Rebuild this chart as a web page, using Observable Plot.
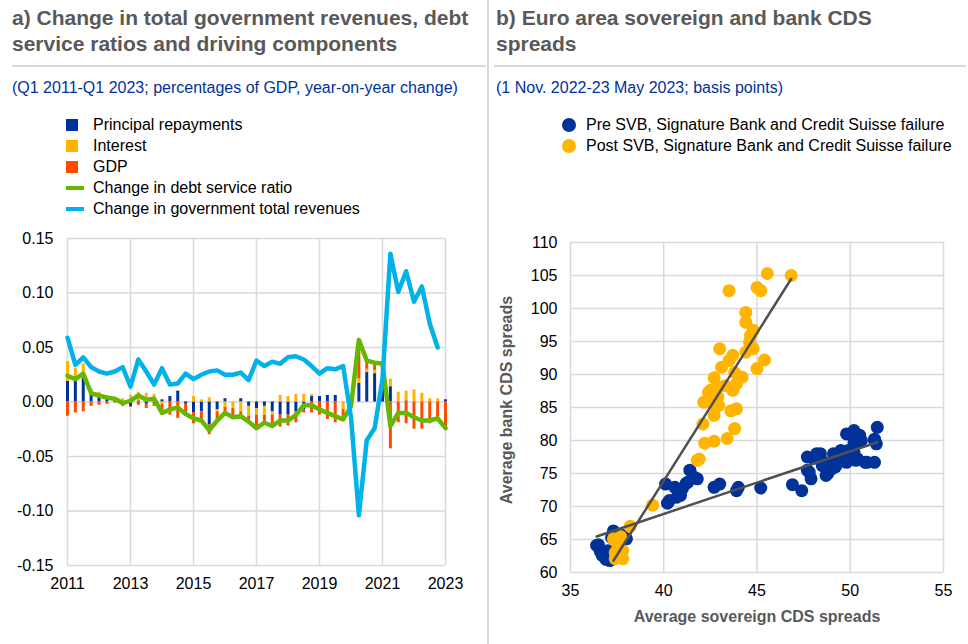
<!DOCTYPE html>
<html><head><meta charset="utf-8">
<script src="https://cdn.jsdelivr.net/npm/d3@7"></script>
<script src="https://cdn.jsdelivr.net/npm/@observablehq/plot@0.6"></script>
<style>
body{margin:0;width:968px;height:644px;position:relative;background:#fff;font-family:"Liberation Sans",Arial,sans-serif;overflow:hidden}
.title{position:absolute;top:5px;font-weight:bold;font-size:21px;line-height:26px;color:#595959;white-space:nowrap}
.sub{position:absolute;top:79px;font-size:16px;line-height:18px;color:#003299;white-space:nowrap}
.hr{position:absolute;top:65px;height:2px;background:#d9d9d9}
.vr{position:absolute;left:487px;top:0;width:2px;height:644px;background:#d9d9d9}
.leg{position:absolute;font-size:16px;line-height:18px;color:#000;white-space:nowrap}
.sw{position:absolute}
.axt{position:absolute;font-size:16px;font-weight:bold;color:#595959;white-space:nowrap}
.chart{position:absolute}
</style>
</head><body>
<div class="title" style="left:12px">a) Change in total government revenues, debt<br>service ratios and driving components</div>
<div class="title" style="left:496px">b) Euro area sovereign and bank CDS<br>spreads</div>
<div class="hr" style="left:12px;width:474px"></div>
<div class="hr" style="left:494px;width:472px"></div>
<div class="vr"></div>
<div class="sub" style="left:12px">(Q1 2011-Q1 2023; percentages of GDP, year-on-year change)</div>
<div class="sub" style="left:496px">(1 Nov. 2022-23 May 2023; basis points)</div>
<div id="legA"></div>
<div id="legB"></div>
<div id="chartA" class="chart" style="left:0;top:220px"></div>
<div id="chartB" class="chart" style="left:490px;top:225px"></div>
<div class="axt" style="left:507px;top:400px;transform:translate(-50%,-50%) rotate(-90deg)">Average bank CDS spreads</div>
<div class="axt" style="left:757px;top:617px;transform:translate(-50%,-50%)">Average sovereign CDS spreads</div>
<script>
// ---------- Panel a data ----------
const startYear = 2011; // Q1 2011, quarterly
const barSeries = ["Principal repayments", "Interest", "GDP"];
const barColors = ["#003299", "#ffb400", "#ff4b00"];
const lineSeries = ["Change in debt service ratio", "Change in government total revenues"];
const lineColors = ["#65b800", "#00b1ea"];

const principal = [0.019,0.019,0.022,0.009,0.007,0.004,0.003,-0.002,-0.004,0.001,-0.002,-0.001,0.002,0.005,0.010,-0.002,-0.010,-0.009,-0.021,-0.007,0.003,0,0.003,-0.004,-0.006,-0.004,-0.009,-0.012,-0.012,-0.009,-0.007,0.005,0.005,0.006,0.006,0,-0.002,0.017,0.027,0.026,0.027,0.014,0,0.001,0,0,0,0,0.002];
const interest = [0.018,0.012,0.013,0.003,0.002,0.002,0.001,0.003,0.006,0.008,0.008,0.007,-0.002,0,0,0,0.005,0.002,0.004,-0.002,-0.005,-0.006,-0.009,-0.009,-0.006,-0.008,-0.003,0.006,0.005,0.007,0.007,0.002,0,0,0,-0.007,0,0.004,0.003,0.003,0.003,0.007,0.009,0.009,0.011,0.008,0.003,0.003,0];
const gdp = [-0.013,-0.010,-0.009,-0.004,-0.003,-0.002,-0.001,-0.002,-0.001,-0.003,-0.004,-0.003,-0.010,-0.012,-0.015,-0.009,-0.010,-0.010,-0.009,-0.008,-0.008,-0.008,-0.007,-0.005,-0.012,-0.007,-0.010,-0.011,-0.010,-0.010,-0.003,-0.010,-0.012,-0.016,-0.019,-0.009,-0.002,0.036,0.008,0.007,0.005,-0.043,-0.019,-0.020,-0.025,-0.025,-0.020,-0.018,-0.026];
const debtService = [0.024,0.021,0.026,0.008,0.006,0.004,0.003,-0.001,0.001,0.006,0.002,0.003,-0.010,-0.007,-0.005,-0.011,-0.015,-0.017,-0.026,-0.017,-0.010,-0.014,-0.013,-0.018,-0.024,-0.019,-0.022,-0.017,-0.017,-0.012,-0.003,-0.003,-0.007,-0.010,-0.013,-0.016,-0.004,0.057,0.038,0.036,0.035,-0.022,-0.010,-0.010,-0.014,-0.017,-0.017,-0.015,-0.024];
const revenues = [0.059,0.034,0.041,0.032,0.028,0.026,0.028,0.032,0.014,0.039,0.028,0.016,0.031,0.016,0.017,0.026,0.021,0.025,0.028,0.029,0.025,0.025,0.027,0.020,0.038,0.033,0.037,0.035,0.041,0.042,0.039,0.033,0.026,0.031,0.030,0.033,-0.014,-0.104,-0.035,-0.024,0.021,0.136,0.101,0.120,0.092,0.106,0.072,0.050];
const xTicksA = [2011,2013,2015,2017,2019,2021,2023];
const yTicksA = [-0.15,-0.10,-0.05,0,0.05,0.10,0.15];

// ---------- Panel b data ----------
const pointSeries = ["Pre SVB, Signature Bank and Credit Suisse failure", "Post SVB, Signature Bank and Credit Suisse failure"];
const pointColors = ["#003299", "#ffb400"];
const preX = [36.4,36.5,36.6,36.7,36.9,37.1,37.3,37.2,37.0,37.6,38.0,37.8,
  40.1,40.2,40.3,40.6,40.7,40.9,41.0,41.2,41.3,41.4,41.8,41.6,
  42.7,43.0,43.9,44.0,45.2,46.9,47.4,
  47.7,47.7,47.8,47.9,48.0,48.3,48.4,48.6,48.7,48.7,48.8,48.8,49.0,49.1,49.3,49.5,49.7,49.7,49.8,50.0,50.2,50.3,50.4,50.2,50.5,50.3,50.2,50.4,50.8,50.9,51.3,51.4,51.45,51.3,49.2,48.5,49.9,50.6,49.8,48.2,49.5,49.1,51.3];
const preY = [64.1,64.2,63.2,62.6,62.0,61.8,66.3,65.3,63.3,64.3,65.1,65.6,
  73.4,70.5,70.9,72.9,71.4,71.7,72.7,73.5,73.7,75.5,74.2,74.5,
  72.9,73.4,72.4,72.9,72.8,73.3,72.4,
  77.5,75.5,75.2,74.2,77.3,77.7,78.0,76.7,76.5,74.7,75.5,75.0,75.7,77.0,76.5,78.0,77.7,77.0,76.7,78.2,78.2,77.0,77.2,81.5,80.8,80.3,79.7,79.7,76.7,76.7,76.7,79.5,82.0,80.2,76.0,76.2,78.5,80.0,81.0,78.0,78.5,78.0,80.0];
const postX = [37.3,37.5,37.8,37.4,37.8,37.7,37.6,38.2,37.4,37.6,
  39.4,41.8,41.9,42.2,42.7,43.4,43.8,42.1,42.7,43.6,43.9,42.95,42.15,42.6,42.9,42.5,43.7,43.3,43.9,42.7,44.2,43.8,43.1,45.0,45.4,43.5,43.7,44.4,43.0,44.8,44.6,44.65,44.8,44.4,44.4,43.5,45.0,45.2,45.55,46.83,42.9,42.4];
const postY = [65.1,64.3,63.3,62.1,62.1,65.4,63.8,67.0,63.0,62.5,
  70.2,77.0,77.2,79.6,79.9,80.3,81.8,82.5,83.8,84.5,84.8,85.3,85.8,85.6,86.6,87.6,87.6,88.3,88.6,89.5,89.6,90.3,91.1,90.9,92.2,92.1,92.9,93.4,93.9,93.9,94.9,95.9,96.7,97.9,99.4,102.7,103.2,102.7,105.3,105.0,88.1,87.3];
const xTicksB = [35,40,45,50,55];
const yTicksB = [60,65,70,75,80,85,90,95,100,105,110];

// ---------- build tables ----------
const quarters = revenues.concat([null]).map((_, i) => startYear + i / 4);
const bars = [];
quarters.forEach((t, i) => {
  bars.push({t, s: barSeries[0], v: principal[i]});
  bars.push({t, s: barSeries[1], v: interest[i]});
  bars.push({t, s: barSeries[2], v: gdp[i]});
});
const dsr = debtService.map((v, i) => ({t: quarters[i], v}));
const rev = revenues.map((v, i) => ({t: quarters[i], v}));
const pre = preX.map((x, i) => ({x, y: preY[i]}));
const post = postX.map((x, i) => ({x, y: postY[i]}));

const grid = "#d9d9d9";
const font = {fontFamily: "Liberation Sans, Arial, sans-serif", fontSize: "16px", color: "#000", background: "transparent", overflow: "visible"};

const chartA = Plot.plot({
  width: 488, height: 424,
  marginLeft: 67, marginRight: 43, marginTop: 18, marginBottom: 79,
  style: font,
  x: {domain: [2011, 2023], label: null},
  y: {domain: [-0.15, 0.15], label: null},
  color: {domain: barSeries, range: barColors},
  marks: [
    Plot.ruleX(xTicksA, {stroke: grid, strokeWidth: 1.5}),
    Plot.ruleY(yTicksA, {stroke: grid, strokeWidth: 1.5}),
    Plot.ruleX(bars, Plot.stackY({x: "t", y: "v", stroke: "s", strokeWidth: 3})),
    Plot.line(dsr, {x: "t", y: "v", stroke: lineColors[0], strokeWidth: 4.5, strokeLinejoin: "round"}),
    Plot.line(rev, {x: "t", y: "v", stroke: lineColors[1], strokeWidth: 4.5, strokeLinejoin: "round"}),
    Plot.axisX({ticks: xTicksA, tickFormat: d => String(d), tickSize: 0, tickPadding: 12, label: null}),
    Plot.axisY({ticks: yTicksA, tickFormat: d => d.toFixed(2), tickSize: 0, tickPadding: 14, label: null})
  ]
});
document.getElementById("chartA").appendChild(chartA);

const chartB = Plot.plot({
  width: 478, height: 419,
  marginLeft: 80, marginRight: 25, marginTop: 17, marginBottom: 72,
  style: font,
  x: {domain: [35, 55], label: null},
  y: {domain: [60, 110], label: null},
  marks: [
    Plot.ruleX(xTicksB, {stroke: grid, strokeWidth: 1.5}),
    Plot.ruleY(yTicksB, {stroke: grid, strokeWidth: 1.5}),
    Plot.dot(pre, {x: "x", y: "y", r: 6.5, fill: pointColors[0]}),
    Plot.dot(post, {x: "x", y: "y", r: 6.5, fill: pointColors[1]}),
    Plot.linearRegressionY(pre, {x: "x", y: "y", stroke: "#505050", strokeWidth: 2.5, ci: 0}),
    Plot.linearRegressionY(post, {x: "x", y: "y", stroke: "#505050", strokeWidth: 2.5, ci: 0}),
    Plot.axisX({ticks: xTicksB, tickFormat: d => String(d), tickSize: 0, tickPadding: 12, label: null}),
    Plot.axisY({ticks: yTicksB, tickFormat: d => String(d), tickSize: 0, tickPadding: 13, label: null})
  ]
});
document.getElementById("chartB").appendChild(chartB);

// ---------- legends ----------
const legA = document.getElementById("legA");
const legItems = barSeries.map((s, i) => ({s, c: barColors[i], type: "sq"}))
  .concat(lineSeries.map((s, i) => ({s, c: lineColors[i], type: "ln"})));
legItems.forEach((it, i) => {
  const cy = 125 + i * 21;
  const sw = document.createElement("div");
  sw.className = "sw";
  if (it.type === "sq") Object.assign(sw.style, {left: "66px", top: (cy - 6) + "px", width: "12px", height: "12px", background: it.c});
  else Object.assign(sw.style, {left: "66px", top: (cy - 2) + "px", width: "18px", height: "4px", background: it.c});
  legA.appendChild(sw);
  const tx = document.createElement("div");
  tx.className = "leg";
  tx.textContent = it.s;
  Object.assign(tx.style, {left: "93px", top: (cy - 9) + "px"});
  legA.appendChild(tx);
});
const legB = document.getElementById("legB");
pointSeries.forEach((s, i) => {
  const cy = 125 + i * 21;
  const sw = document.createElement("div");
  sw.className = "sw";
  Object.assign(sw.style, {left: "562px", top: (cy - 7) + "px", width: "14px", height: "14px", borderRadius: "50%", background: pointColors[i]});
  legB.appendChild(sw);
  const tx = document.createElement("div");
  tx.className = "leg";
  tx.textContent = s;
  Object.assign(tx.style, {left: "586px", top: (cy - 9) + "px"});
  legB.appendChild(tx);
});
</script>
</body></html>
